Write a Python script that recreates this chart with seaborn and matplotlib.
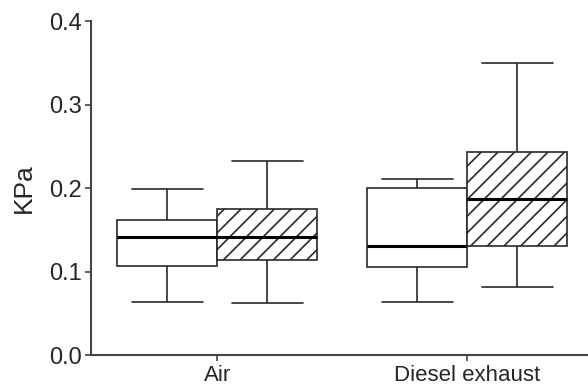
import pandas as pd
import seaborn as sns
import matplotlib.pyplot as plt

# five-number summaries: min, q1, median, q3, max
exposures = ['Air', 'Diesel exhaust']
conditions = ['plain', 'hatched']
air_plain = [0.063, 0.107, 0.141, 0.162, 0.199]
air_hatched = [0.062, 0.114, 0.141, 0.175, 0.232]
diesel_plain = [0.063, 0.106, 0.131, 0.200, 0.211]
diesel_hatched = [0.081, 0.131, 0.187, 0.243, 0.350]

rows = []
for exp, cond, vals in [('Air', 'plain', air_plain), ('Air', 'hatched', air_hatched),
                        ('Diesel exhaust', 'plain', diesel_plain),
                        ('Diesel exhaust', 'hatched', diesel_hatched)]:
    for v in vals:
        rows.append({'exposure': exp, 'condition': cond, 'KPa': v})
df = pd.DataFrame(rows)

sns.set_style('ticks')
plt.rcParams['font.family'] = ['Liberation Sans', 'DejaVu Sans']
plt.rcParams['hatch.linewidth'] = 1.2

fig = plt.figure(figsize=(5.88, 3.9), dpi=100)
ax = fig.add_axes([0.155, 0.0897, 0.845, 0.856])

sns.boxplot(data=df, x='exposure', y='KPa', hue='condition', order=exposures,
            hue_order=conditions, palette=['white', 'white'], whis=(0, 100),
            width=0.8, gap=0, linecolor='#2a2a2a', linewidth=1.2, capwidths=0.284,
            medianprops={'color': 'black', 'linewidth': 2.2},
            legend=False, ax=ax)

# hatch the right-hand box of each pair
for p in ax.patches:
    xs = p.get_path().vertices[:, 0]
    c = (xs.min() + xs.max()) / 2
    if c - round(c) > 0.05:
        p.set_hatch('//')

ax.set_xlim(-0.504, 1.484)
ax.set_ylim(0, 0.4)
ax.set_yticks([0.0, 0.1, 0.2, 0.3, 0.4])
ax.set_yticklabels(['0.0', '0.1', '0.2', '0.3', '0.4'])
ax.set_xlabel('')
ax.set_ylabel('KPa', fontsize=19, labelpad=9)
ax.tick_params(axis='both', length=4, width=1.2, color='#444444', pad=3)
ax.tick_params(axis='y', labelsize=17)
ax.tick_params(axis='x', labelsize=16)
for s in ['top', 'right']:
    ax.spines[s].set_visible(False)
for s in ['left', 'bottom']:
    ax.spines[s].set_color('#444444')
    ax.spines[s].set_linewidth(1.5)

fig.savefig('out.png', dpi=100)
